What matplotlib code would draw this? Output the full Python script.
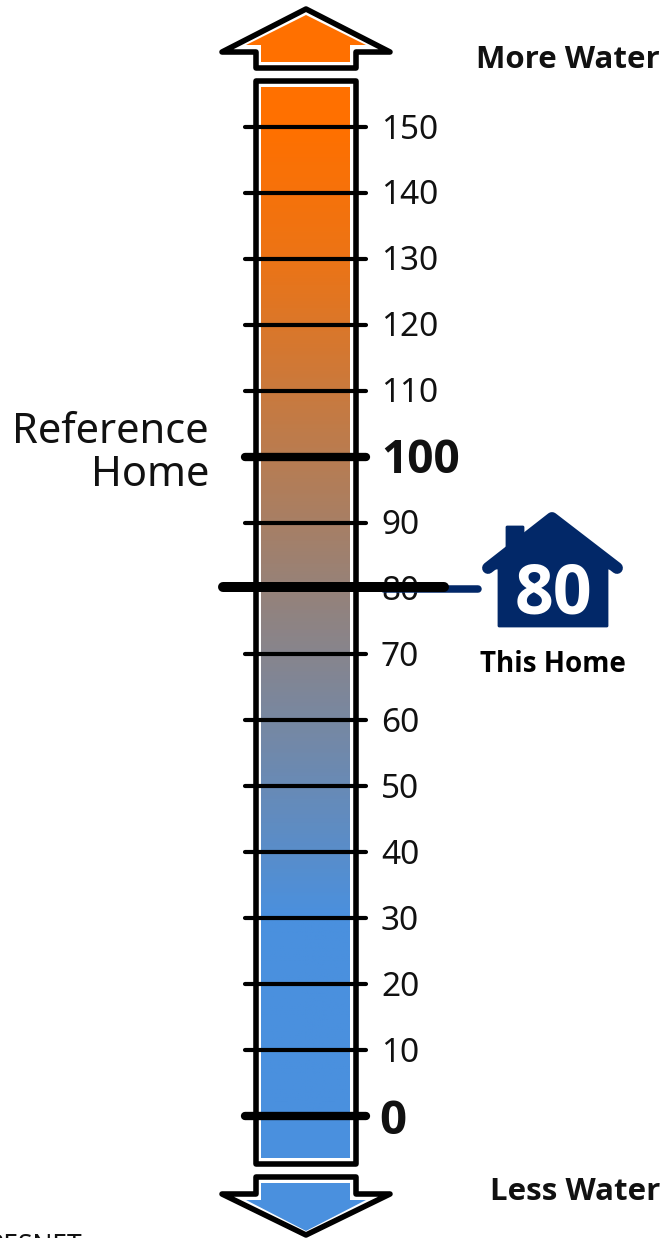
import numpy as np
import matplotlib.pyplot as plt
from matplotlib.colors import LinearSegmentedColormap
from matplotlib.patches import Polygon, Rectangle

plt.rcParams['font.family'] = ['Noto Sans', 'DejaVu Sans']
BOLD = ['Open Sans', 'DejaVu Sans']

# scale values
minor_ticks = [10, 20, 30, 40, 50, 60, 70, 80, 90, 110, 120, 130, 140, 150]
major_ticks = [0, 100]
home_score = 80
marker_offset = 0.25  # black bar sits slightly above the navy one

# colour ramp, score -> colour
ramp_scores = [0, 30, 80, 130, 150]
ramp_colors = ['#4A90DE', '#4A90DE', '#968279', '#EC7416', '#FF7000']

BLACK = '#000000'
TEXT = '#111111'
NAVY = '#022868'
ORANGE = '#FF7000'
BLUE = '#4A90DE'

W, H = 661, 1238
Y0, PX_PER_UNIT = 1116, 6.593


def sy(p):
    # image pixel row -> score
    return (Y0 - p) / PX_PER_UNIT


def pts(xy):
    return [(x, sy(y)) for x, y in xy]


fig = plt.figure(figsize=(W / 100, H / 100), dpi=100)
ax = fig.add_axes([0, 0, 1, 1])

# gradient bar
low, high = ramp_scores[0], ramp_scores[-1]
cmap = LinearSegmentedColormap.from_list(
    'water', [((s - low) / (high - low), c) for s, c in zip(ramp_scores, ramp_colors)])
grad = np.linspace(0, 1, 512).reshape(-1, 1)
ax.imshow(grad, cmap=cmap, origin='lower', aspect='auto', extent=(261, 350, low, high), zorder=1)
ax.add_patch(Rectangle((261, high), 89, sy(87) - high, fc=ORANGE, ec='none', zorder=1))
ax.add_patch(Rectangle((261, sy(1158)), 89, low - sy(1158), fc=BLUE, ec='none', zorder=1))

ax.set_xlim(0, W)
ax.set_ylim(sy(H), sy(0))
ax.axis('off')

# bar outline
ax.add_patch(Rectangle((256, sy(1163.5)), 100, sy(81) - sy(1163.5), fc='none', ec=BLACK,
                       lw=4, joinstyle='round', zorder=3))

# arrows
up_out = [(306, 9), (222, 52), (256, 52), (256, 68), (356, 68), (356, 52), (390, 52)]
up_in = [(306, 15), (246, 45), (261, 45), (261, 62), (350, 62), (350, 45), (366, 45)]
dn_out = [(306, 1235), (222, 1194), (256, 1194), (256, 1177), (356, 1177), (356, 1194), (390, 1194)]
dn_in = [(306, 1231), (246, 1200), (261, 1200), (261, 1183), (350, 1183), (350, 1200), (366, 1200)]
ax.add_patch(Polygon(pts(up_in), fc=ORANGE, ec='none', zorder=2))
ax.add_patch(Polygon(pts(dn_in), fc=BLUE, ec='none', zorder=2))
for shape in (up_out, dn_out):
    ax.add_patch(Polygon(pts(shape), fc='none', ec=BLACK, lw=4, joinstyle='round', zorder=3))

# ticks
for v in minor_ticks:
    ax.plot([245, 366], [v, v], color=BLACK, lw=3, solid_capstyle='round', zorder=4)
    ax.text(381, v + 0.15, str(v), fontsize=24, va='center_baseline', ha='left', color=TEXT, zorder=2)
for v in major_ticks:
    ax.plot([245, 366], [v, v], color=BLACK, lw=6, solid_capstyle='round', zorder=4)
ax.text(381, 100.3, '100', fontsize=33, fontweight='bold', family=BOLD, va='center_baseline', ha='left', color=TEXT)
ax.text(379, 0, '0', fontsize=34, fontweight='bold', family=BOLD, va='center_baseline', ha='left', color=TEXT)

# this home marker
ax.plot([384, 478], [home_score, home_score], color=NAVY, lw=5.4, solid_capstyle='round', zorder=5)
ax.plot([223, 444], [home_score + marker_offset] * 2, color=BLACK, lw=7.2,
        solid_capstyle='round', zorder=6)

# house
house = [(552, 516), (523, 538), (523, 527), (507, 527), (507, 551), (488, 568),
         (499, 568), (499, 626), (607, 626), (607, 568), (617, 568)]
ax.add_patch(Polygon(pts(house), fc=NAVY, ec=NAVY, lw=2, joinstyle='round', zorder=5))
ax.plot([488, 552, 617], [sy(568), sy(518), sy(568)], color=NAVY, lw=8.5,
        solid_capstyle='round', solid_joinstyle='round', zorder=5)
ax.text(553, sy(587), str(home_score), fontsize=49, fontweight='bold', color='white',
        family=BOLD, ha='center', va='center_baseline', zorder=7)

# labels
ax.text(553, sy(661), 'This Home', fontsize=20, fontweight='bold', ha='center', va='center_baseline',
        family=BOLD, color=BLACK)
ax.text(209, sy(427), 'Reference', fontsize=30, ha='right', va='center_baseline', color=TEXT)
ax.text(209, sy(470), 'Home', fontsize=30, ha='right', va='center_baseline', color=TEXT)
ax.text(660, sy(57), 'More Water', fontsize=22.5, fontweight='bold', family=BOLD, ha='right', va='center_baseline', color=TEXT)
ax.text(660, sy(1189), 'Less Water', fontsize=22.5, fontweight='bold', family=BOLD, ha='right', va='center_baseline', color=TEXT)
ax.text(-12, sy(1243), 'RESNET', fontsize=19, ha='left', va='center_baseline', color=TEXT)

fig.savefig('out.png', dpi=100, facecolor='white')
